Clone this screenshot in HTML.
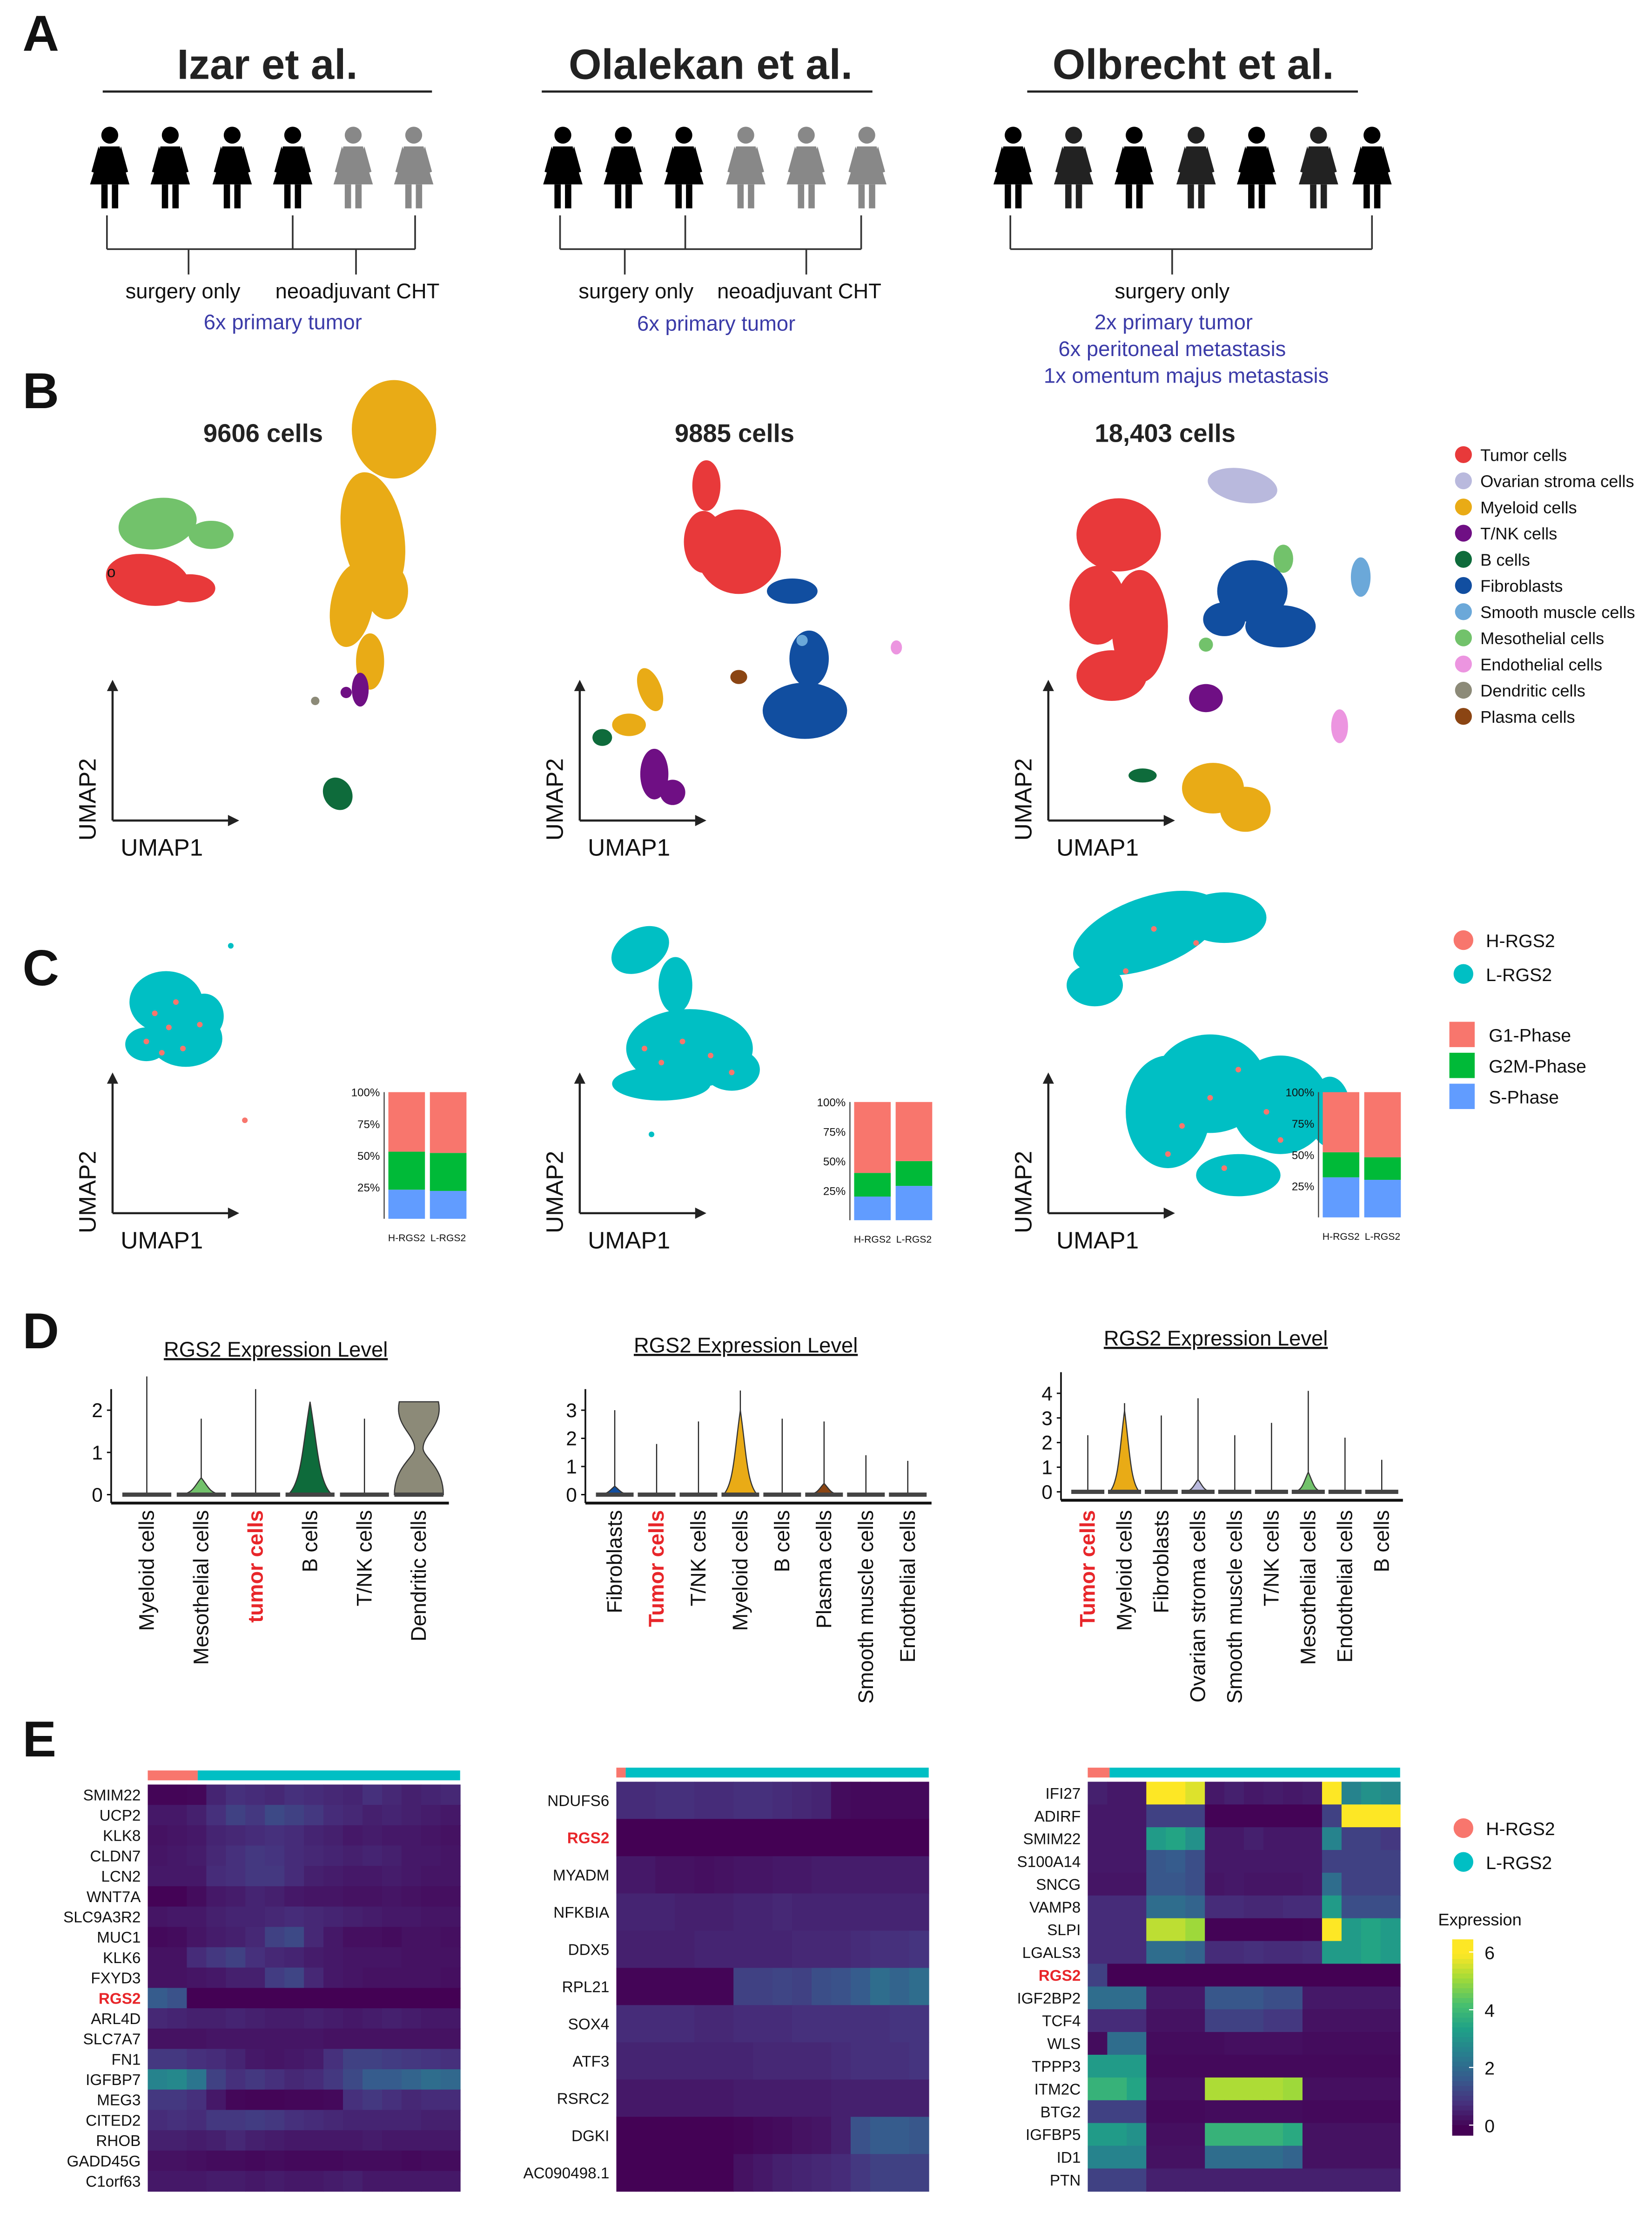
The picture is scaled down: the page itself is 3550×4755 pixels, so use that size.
<!DOCTYPE html>
<html><head><meta charset="utf-8"><style>
html,body{margin:0;padding:0;background:#fff}
svg{display:block}
text{font-family:"Liberation Sans",Arial,sans-serif}
</style></head><body>
<svg id="fig" xmlns="http://www.w3.org/2000/svg" width="3550" height="4755" viewBox="0 0 1174 1572.4">
<rect width="1174" height="1572.4" fill="#fff"/>
<g id="root"></g>
</svg>
<script>
// ===== data arrays =====
const studyTitles=["Izar et al.","Olalekan et al.","Olbrecht et al."];
const cellCounts=["9606 cells","9885 cells","18,403 cells"];
const cellTypes=["Tumor cells","Ovarian stroma cells","Myeloid cells","T/NK cells","B cells","Fibroblasts","Smooth muscle cells","Mesothelial cells","Endothelial cells","Dendritic cells","Plasma cells"];
const cellColors=["#E8393A","#B9B9DD","#E9AB16","#6F0F84","#0E6B3B","#114EA0","#6BA8D9","#72C26B","#EC95E0","#8C8A78","#8B4513"];
const phaseNames=["G1-Phase","G2M-Phase","S-Phase"];
const barGroups=["H-RGS2","L-RGS2"];
const sPhase=[[23,22],[20,29],[32,30]];
const g2mPhase=[[30,30],[20,21],[20,18]];
const g1Phase=[[47,48],[60,50],[48,52]];
const pctTicks=[25,50,75,100];
const violinCats=[
 ["Myeloid cells","Mesothelial cells","tumor cells","B cells","T/NK cells","Dendritic cells"],
 ["Fibroblasts","Tumor cells","T/NK cells","Myeloid cells","B cells","Plasma cells","Smooth muscle cells","Endothelial cells"],
 ["Tumor cells","Myeloid cells","Fibroblasts","Ovarian stroma cells","Smooth muscle cells","T/NK cells","Mesothelial cells","Endothelial cells","B cells"]];
const violinMax=[[2.8,1.8,2.5,2.2,1.8,2.2],[3.0,1.8,2.6,3.7,2.7,2.6,1.4,1.2],[2.3,3.6,3.1,3.8,2.3,2.8,4.1,2.2,1.3]];
const violinBody=[[0,0.4,0,2.2,0,2.2],[0.3,0,0,3.0,0,0.4,0,0],[0,3.3,0,0.5,0,0,0.8,0,0]];
const violinColorIdx=[[2,7,0,4,3,9],[5,0,3,2,4,10,6,8],[0,2,5,1,6,3,7,8,4]];
const violinTicks=[[0,1,2],[0,1,2,3],[0,1,2,3,4]];
const hmGenes=[
 ["SMIM22","UCP2","KLK8","CLDN7","LCN2","WNT7A","SLC9A3R2","MUC1","KLK6","FXYD3","RGS2","ARL4D","SLC7A7","FN1","IGFBP7","MEG3","CITED2","RHOB","GADD45G","C1orf63"],
 ["NDUFS6","RGS2","MYADM","NFKBIA","DDX5","RPL21","SOX4","ATF3","RSRC2","DGKI","AC090498.1"],
 ["IFI27","ADIRF","SMIM22","S100A14","SNCG","VAMP8","SLPI","LGALS3","RGS2","IGF2BP2","TCF4","WLS","TPPP3","ITM2C","BTG2","IGFBP5","ID1","PTN"]];
const hm1=[
 [0.3,0.3,0.4,1.3,1.6,1.5,1.4,1.6,1.5,1.4,1.3,1.6,1.4,1.2,1.3,1.4],
 [1.0,1.0,1.2,1.6,2.0,1.8,2.2,2.0,1.8,1.5,1.4,1.2,1.3,1.2,1.1,1.0],
 [0.8,0.9,1.0,1.3,1.4,1.5,1.6,1.5,1.3,1.2,1.0,1.1,1.0,1.0,0.9,0.8],
 [0.9,1.0,1.1,1.4,1.6,1.8,1.7,1.5,1.4,1.3,1.2,1.3,1.2,1.0,1.0,0.9],
 [1.0,1.0,1.0,1.5,1.6,1.8,1.8,1.5,1.2,1.1,1.0,1.0,1.1,1.0,0.9,0.9],
 [0.2,0.2,0.6,1.0,1.1,1.3,1.2,1.0,0.9,0.9,0.8,0.8,0.9,0.8,0.7,0.7],
 [0.9,1.0,1.0,1.2,1.3,1.3,1.4,1.5,1.4,1.3,1.2,1.1,1.0,1.0,0.9,0.9],
 [0.5,0.6,0.9,1.1,1.2,1.4,2.0,2.2,1.4,1.0,0.7,0.7,0.6,0.8,0.8,0.7],
 [0.8,0.8,1.5,1.8,2.0,1.6,1.4,1.3,1.1,1.0,0.9,0.9,0.9,0.8,0.8,0.8],
 [0.8,0.8,0.9,1.0,1.2,1.2,1.9,2.1,1.4,1.0,0.9,0.8,0.8,0.8,0.8,0.7],
 [2.6,2.4,0.0,0.0,0.0,0.0,0.0,0.0,0.0,0.0,0.0,0.0,0.0,0.0,0.0,0.0],
 [1.4,1.3,1.2,1.2,1.3,1.2,1.1,1.1,1.2,1.1,1.0,1.1,1.2,1.1,1.0,1.0],
 [0.8,0.8,0.8,0.9,0.9,0.9,0.9,0.9,0.9,0.8,0.8,0.8,0.8,0.8,0.8,0.8],
 [1.8,1.8,1.6,1.5,1.3,1.0,0.9,1.0,1.1,1.6,2.0,2.0,1.9,1.8,1.7,1.6],
 [3.5,3.6,3.2,2.0,1.6,1.8,1.6,1.4,1.5,1.8,2.2,2.6,2.6,2.8,3.0,2.9],
 [1.8,1.8,1.6,1.0,0.4,0.3,0.3,0.4,0.4,0.5,1.6,1.8,1.6,1.4,1.5,1.5],
 [1.5,1.6,1.5,1.8,1.8,1.9,1.8,1.6,1.5,1.4,1.3,1.3,1.3,1.3,1.2,1.2],
 [1.2,1.2,1.1,1.2,1.4,1.2,1.1,1.0,1.0,1.0,1.0,1.1,1.0,1.0,1.0,1.0],
 [0.8,0.8,0.7,0.6,0.6,0.5,0.6,0.5,0.5,0.5,0.6,0.6,0.6,0.5,0.6,0.6],
 [1.0,1.0,1.0,1.1,1.1,1.0,1.1,1.0,1.0,1.1,1.2,1.0,1.0,1.0,1.0,1.0]];
const hm2=[
 [1.5,1.5,1.6,1.6,1.5,1.5,1.6,1.6,1.5,1.4,1.3,0.6,0.5,0.5,0.5,0.5],
 [0,0,0,0,0,0,0,0,0,0,0,0,0,0,0,0],
 [1.0,1.0,0.8,0.8,0.7,0.8,0.9,0.9,1.0,1.0,1.1,1.1,1.1,1.1,1.1,1.1],
 [1.3,1.3,1.3,1.2,1.2,1.2,1.3,1.3,1.4,1.3,1.3,1.3,1.3,1.3,1.3,1.3],
 [1.2,1.2,1.2,1.2,1.3,1.3,1.3,1.3,1.3,1.4,1.4,1.4,1.5,1.6,1.6,1.7],
 [0.3,0.3,0.3,0.3,0.3,0.3,2.0,2.0,2.1,2.0,2.3,2.4,2.6,3.0,2.8,3.0],
 [1.5,1.5,1.5,1.5,1.4,1.4,1.5,1.5,1.5,1.6,1.6,1.6,1.6,1.6,1.7,1.7],
 [1.3,1.3,1.3,1.3,1.3,1.3,1.3,1.4,1.4,1.4,1.4,1.5,1.6,1.6,1.6,1.7],
 [1.0,1.0,1.0,1.0,1.0,1.0,1.1,1.1,1.1,1.1,1.1,1.2,1.2,1.2,1.2,1.2],
 [0.1,0.1,0.1,0.1,0.1,0.1,0.3,0.5,0.6,0.8,0.9,1.2,2.4,2.6,2.6,2.5],
 [0.1,0.1,0.1,0.1,0.1,0.1,0.8,1.0,1.2,1.3,1.4,1.5,1.8,2.0,2.0,2.0]];
const hm3=[
 [1.2,1.0,1.0,6.0,6.0,5.8,1.0,1.2,1.0,1.1,1.0,1.1,6.0,3.5,3.8,3.6],
 [1.0,1.0,1.0,2.0,2.0,2.0,0.2,0.2,0.2,0.2,0.2,0.2,2.0,6.0,6.0,6.0],
 [1.0,1.0,1.0,4.0,4.2,3.8,1.0,1.0,1.2,1.0,1.0,1.0,3.5,2.0,2.0,1.8],
 [1.0,1.0,1.0,2.5,2.6,2.3,1.0,1.0,1.0,1.0,1.0,1.0,2.0,2.0,2.0,2.0],
 [0.9,0.9,0.9,2.5,2.5,2.3,0.9,1.0,0.9,0.9,0.9,1.0,3.0,2.0,2.0,2.0],
 [1.5,1.5,1.5,3.0,3.0,2.8,1.5,1.5,1.4,1.4,1.5,1.5,4.0,2.3,2.3,2.3],
 [1.5,1.5,1.5,5.6,5.6,5.4,0.2,0.2,0.2,0.2,0.2,0.3,6.0,4.0,4.2,4.0],
 [1.5,1.5,1.5,3.0,3.0,2.8,1.5,1.5,1.6,1.5,1.5,1.6,4.0,4.0,4.2,4.0],
 [2.0,0,0,0,0,0,0,0,0,0,0,0,0,0,0,0],
 [3.0,3.0,3.0,1.0,1.0,1.0,2.5,2.5,2.5,2.3,2.3,1.0,1.0,1.0,1.0,1.0],
 [1.5,1.5,1.5,0.8,0.8,0.8,2.0,2.0,2.0,1.8,1.8,0.8,0.8,0.8,0.8,0.8],
 [0.6,3.0,3.0,0.6,0.6,0.6,0.6,0.7,0.7,0.7,0.7,0.6,0.6,0.6,0.6,0.6],
 [4.0,4.0,4.0,0.5,0.5,0.5,0.5,0.5,0.5,0.5,0.5,0.5,0.5,0.5,0.5,0.5],
 [4.5,4.5,4.2,0.7,0.7,0.7,5.5,5.5,5.5,5.5,5.4,0.7,0.7,0.7,0.7,0.7],
 [2.0,2.0,2.0,0.5,0.5,0.5,0.6,0.6,0.6,0.6,0.6,0.5,0.5,0.5,0.5,0.5],
 [4.0,4.0,3.8,0.7,0.7,0.7,4.5,4.5,4.5,4.5,4.3,0.8,0.8,0.8,0.8,0.8],
 [3.5,3.5,3.5,0.8,0.8,0.8,3.0,3.0,3.0,3.0,2.8,0.8,0.8,0.8,0.8,0.8],
 [2.0,2.0,2.0,1.2,1.2,1.2,1.2,1.2,1.2,1.2,1.2,1.2,1.2,1.2,1.2,1.2]];
const hmData=[hm1,hm2,hm3];
const hmHighFrac=[0.16,0.03,0.07];
const exprTicks=[0,2,4,6];

// ===== helpers =====
const NS="http://www.w3.org/2000/svg";
const root=document.getElementById('root');
function el(tag,attrs,parent,txt){const e=document.createElementNS(NS,tag);for(const k in attrs)e.setAttribute(k,attrs[k]);if(txt!==undefined)e.textContent=txt;(parent||root).appendChild(e);return e;}
function txt(x,y,s,size,opts,parent){opts=opts||{};const t=el('text',{x:x,y:y,'font-size':size,fill:opts.fill||'#111','text-anchor':opts.anchor||'start','font-weight':opts.weight||'normal'},parent,s);if(opts.rot)t.setAttribute('transform','rotate('+opts.rot+' '+x+' '+y+')');if(opts.deco)t.setAttribute('text-decoration',opts.deco);return t;}
function viridis(v){const stops=[[68,1,84],[70,50,126],[54,92,141],[39,127,142],[31,161,135],[74,193,109],[160,218,57],[253,231,37]];let t=Math.max(0,Math.min(6,v))/6*7;const i=Math.min(6,Math.floor(t));const f=t-i;const a=stops[i],b=stops[i+1];return 'rgb('+[0,1,2].map(k=>Math.round(a[k]+(b[k]-a[k])*f)).join(',')+')';}
// perceived colour of sparse stripes (mostly zero cells with bright streaks)
function stripeColor(v){const m=Math.max(0,Math.min(6,v));return viridis(6*Math.pow(m/6,1.5));}

// ===== panel letters =====
[["A",16,36],["B",16,290],["C",16,700],["D",16,958],["E",16,1248]].forEach(p=>{
 const t=txt(p[1],p[2],p[0],36,{weight:'bold'});
 
 
});

// ===== Panel A =====
const gA=el('g',{});
const titleCx=[190,505,848];
const ulines=[[73,307],[385,620],[730,965]];
studyTitles.forEach((s,i)=>{
 const t=txt(titleCx[i],56,s,30,{anchor:'middle',weight:'bold',fill:'#222'},gA);
 
 el('line',{x1:ulines[i][0],x2:ulines[i][1],y1:65,y2:65,stroke:'#222','stroke-width':1.5},gA);
});
function woman(cx,color){
 const g=el('g',{fill:color},gA);
 
 el('circle',{cx:cx,cy:96,r:6},g);
 el('path',{d:`M${cx-7},104 L${cx+7},104 L${cx+10},118 L${cx+14},131 L${cx-14},131 L${cx-10},118 Z`},g);
 el('path',{d:`M${cx-8},104 L${cx-13},122 L${cx-10},123 L${cx-6},110 Z M${cx+8},104 L${cx+13},122 L${cx+10},123 L${cx+6},110 Z`},g);
 el('rect',{x:cx-6,y:131,width:4.5,height:17},g);
 el('rect',{x:cx+1.5,y:131,width:4.5,height:17},g);
}
[78,121,165,208].forEach(x=>woman(x,'#000'));[251,294].forEach(x=>woman(x,'#888'));
[400,443,486].forEach(x=>woman(x,'#000'));[530,573,616].forEach(x=>woman(x,'#888'));
[720,763,806,850,893,937,975].forEach((x,i)=>woman(x,i%2?'#222':'#000'));
function bracket(x1,x2,mid,drops){
 const s={stroke:'#333','stroke-width':1.2};
 el('line',Object.assign({x1:x1,x2:x2,y1:177,y2:177},s),gA);
 [x1,x2].concat(mid).forEach(x=>el('line',Object.assign({x1:x,x2:x,y1:153,y2:177},s),gA));
 drops.forEach(x=>el('line',Object.assign({x1:x,x2:x,y1:177,y2:195},s),gA));
}
bracket(76,295,[208],[134,253]);
bracket(398,612,[487],[444,573]);
bracket(718,975,[],[833]);
const blue='#3B3BA8';
txt(130,212,'surgery only',15,{anchor:'middle'},gA);txt(254,212,'neoadjuvant CHT',15,{anchor:'middle'},gA);
txt(201,234,'6x primary tumor',15,{anchor:'middle',fill:blue},gA);
txt(452,212,'surgery only',15,{anchor:'middle'},gA);txt(568,212,'neoadjuvant CHT',15,{anchor:'middle'},gA);
txt(509,235,'6x primary tumor',15,{anchor:'middle',fill:blue},gA);
txt(833,212,'surgery only',15,{anchor:'middle'},gA);
txt(834,234,'2x primary tumor',15,{anchor:'middle',fill:blue},gA);
txt(833,253,'6x peritoneal metastasis',15,{anchor:'middle',fill:blue},gA);
txt(843,272,'1x omentum majus metastasis',15,{anchor:'middle',fill:blue},gA);

// ===== UMAP axes =====
function umapAxes(ox,oy,g){
 el('path',{d:`M${ox},${oy} L${ox},${oy-95} M${ox},${oy} L${ox+85},${oy}`,stroke:'#222','stroke-width':1.5,fill:'none'},g);
 el('path',{d:`M${ox-4},${oy-92} L${ox},${oy-100} L${ox+4},${oy-92} Z M${ox+82},${oy-4} L${ox+90},${oy} L${ox+82},${oy+4} Z`,fill:'#222'},g);
 txt(ox-12,oy-15,'UMAP2',17,{rot:-90,anchor:'middle'},g);
 txt(ox+35,oy+25,'UMAP1',17,{anchor:'middle'},g);
}
// ===== Panel B =====
const gB=el('g',{});
const bTitleX=[187,522,828];
cellCounts.forEach((s,i)=>txt(bTitleX[i],314,s,18,{anchor:'middle',weight:'bold',fill:'#222'},gB));
const clustersB=[
 [[112,372,28,18,7,-10],[150,380,16,10,7,0],[105,412,30,18,0,10],[135,418,18,10,0,0],
  [280,305,30,35,2,0],[265,380,22,45,2,-10],[250,430,15,30,2,10],[275,420,15,20,2,0],[263,470,10,20,2,0],[256,490,6,12,3,0],[246,492,4,4,3,0],[224,498,3,3,9,0],[240,564,10,12,4,-30]],
 [[502,345,10,18,0,0],[525,392,30,30,0,0],[500,385,14,22,0,0],[563,420,18,9,5,0],[575,468,14,20,5,0],[572,505,30,20,5,0],[570,455,4,4,6,0],[637,460,4,5,8,0],[525,481,6,5,10,0],
  [462,490,8,16,2,-20],[447,515,12,8,2,0],[428,524,7,6,4,0],[465,550,10,18,3,0],[478,563,9,9,3,0]],
 [[883,345,25,12,1,10],[795,380,30,26,0,0],[780,430,20,28,0,0],[810,445,20,40,0,0],[790,480,25,18,0,0],[912,397,7,10,7,0],[890,420,25,22,5,0],[910,445,25,15,5,0],[870,440,15,12,5,0],[967,410,7,14,6,0],[857,458,5,5,7,0],
  [857,496,12,10,3,0],[952,516,6,12,8,0],[812,551,10,5,4,0],[862,560,22,18,2,0],[885,575,18,16,2,0]]];
const umapOriginX=[80,412,745];
clustersB.forEach((cl,p)=>{
 cl.forEach(c=>{
  const e=el('ellipse',{cx:c[0],cy:c[1],rx:c[2],ry:c[3],fill:cellColors[c[4]],transform:`rotate(${c[5]} ${c[0]} ${c[1]})`},gB);
  
  
 });
 umapAxes(umapOriginX[p],583,gB);
});
txt(76,410,'o',11,{},gB);
cellTypes.forEach((n,i)=>{
 const g=el('g',{},gB);
 
 el('circle',{cx:1040,cy:323+18.6*i,r:6,fill:cellColors[i]},g);
 txt(1052,327.5+18.6*i,n,12,{},g);
});

// ===== Panel C =====
const gC=el('g',{});
const cyan='#00BFC4',salmon='#F8766D';
const blobsC=[
 [[118,712,26,22,0],[132,738,26,20,0],[104,742,15,12,0],[145,722,14,16,0]],
 [[455,675,22,15,-30],[480,700,12,20,0],[490,745,45,28,0],[470,770,35,12,0],[520,760,20,15,0]],
 [[815,663,55,25,-20],[870,652,30,18,0],[778,700,20,15,0],[860,770,40,35,0],[830,790,30,40,0],[910,785,35,35,0],[880,835,30,15,0],[945,790,15,25,0]]];
const redDots=[
 [[110,720],[120,730],[130,745],[104,740],[142,728],[125,712],[115,748]],
 [[485,740],[505,750],[470,755],[520,762],[458,745]],
 [[820,660],[850,670],[800,690],[860,780],[840,800],[900,790],[830,820],[880,760],[910,810],[870,830]]];
blobsC.forEach((bl,p)=>{
 bl.forEach(b=>{const e=el('ellipse',{cx:b[0],cy:b[1],rx:b[2],ry:b[3],fill:cyan,transform:`rotate(${b[4]} ${b[0]} ${b[1]})`},gC);});
 redDots[p].forEach(d=>el('circle',{cx:d[0],cy:d[1],r:2,fill:salmon},gC));
 umapAxes(umapOriginX[p],862,gC);
});
el('circle',{cx:164,cy:672,r:2,fill:cyan},gC);el('circle',{cx:174,cy:796,r:2,fill:salmon},gC);
el('circle',{cx:463,cy:806,r:2,fill:cyan},gC);
const barPanels=[{x0:276,top:776,bot:866},{x0:607,top:783,bot:867},{x0:940,top:776,bot:865}];
const phaseColors=[salmon,'#00BA38','#619CFF'];
barPanels.forEach((bp,p)=>{
 const g=el('g',{},gC);
 const yS=v=>bp.bot-(bp.bot-bp.top)*v/100;
 el('line',{x1:bp.x0-3,x2:bp.x0-3,y1:bp.top,y2:bp.bot,stroke:'#444','stroke-width':0.8},g);
 pctTicks.forEach(t=>txt(bp.x0-6,yS(t)+3,t+'%',8,{anchor:'end'},g));
 barGroups.forEach((gr,j)=>{
  const x=bp.x0+j*29.5,w=26;
  const s=sPhase[p][j],m=g2mPhase[p][j],g1=g1Phase[p][j];
  const segs=[[0,s,2],[s,s+m,1],[s+m,s+m+g1,0]];
  segs.forEach(sg=>{
   const r=el('rect',{x:x,y:yS(sg[1]),width:w,height:yS(sg[0])-yS(sg[1]),fill:phaseColors[sg[2]]},g);
   
   
  });
  txt(x+w/2,bp.bot+16,gr,7,{anchor:'middle'},g);
 });
});
[[salmon,'H-RGS2',668],[cyan,'L-RGS2',692]].forEach(l=>{const g=el('g',{},gC);el('circle',{cx:1040,cy:l[2],r:7,fill:l[0]},g);txt(1056,l[2]+5,l[1],13,{},g);});
phaseNames.forEach((n,i)=>{const g=el('g',{},gC);el('rect',{x:1030,y:726+22*i,width:18,height:18,fill:phaseColors[i]},g);txt(1058,740+22*i,n,13,{},g);});

// ===== Panel D violins =====
const gD=el('g',{});
const vPanels=[{ax:79,xe:319,y0:1062,unit:30,title:[196,964]},{ax:416,xe:662,y0:1062,unit:20,title:[530,961]},{ax:754,xe:997,y0:1060,unit:17.5,title:[864,956]}];
vPanels.forEach((vp,p)=>{
 const g=el('g',{},gD);
 txt(vp.title[0],vp.title[1],'RGS2 Expression Level',15,{anchor:'middle',deco:'underline'},g);
 const n=violinCats[p].length;
 const step=(vp.xe-vp.ax-8)/n;
 const xS=i=>vp.ax+6+step*(i+0.5);
 const yS=v=>vp.y0-v*vp.unit;
 el('line',{x1:vp.ax,x2:vp.ax,y1:yS(violinTicks[p][violinTicks[p].length-1])-15,y2:vp.y0+6,stroke:'#111','stroke-width':1.2},g);
 el('line',{x1:vp.ax,x2:vp.xe,y1:vp.y0+6,y2:vp.y0+6,stroke:'#111','stroke-width':2},g);
 violinTicks[p].forEach(t=>{txt(vp.ax-6,yS(t)+5,String(t),14,{anchor:'end'},g);el('line',{x1:vp.ax-3,x2:vp.ax,y1:yS(t),y2:yS(t),stroke:'#111','stroke-width':1},g);});
 const hw=Math.min(step*0.45,22);
 violinCats[p].forEach((c,i)=>{
  const cx=xS(i),mx=violinMax[p][i],bd=violinBody[p][i];
  const col=cellColors[violinColorIdx[p][i]];
  el('line',{x1:cx,x2:cx,y1:yS(mx),y2:yS(0),stroke:'#222','stroke-width':0.8},g);
  let d;
  if(bd>0){
   if(p===0&&i===5){
    d=`M${cx-hw},${yS(0)} C${cx-hw},${yS(bd*0.3)} ${cx-3},${yS(bd*0.4)} ${cx-3},${yS(bd*0.5)} C${cx-3},${yS(bd*0.65)} ${cx-hw},${yS(bd*0.75)} ${cx-hw*0.8},${yS(bd)} L${cx+hw*0.8},${yS(bd)} C${cx+hw},${yS(bd*0.75)} ${cx+3},${yS(bd*0.65)} ${cx+3},${yS(bd*0.5)} C${cx+3},${yS(bd*0.4)} ${cx+hw},${yS(bd*0.3)} ${cx+hw},${yS(0)} Z`;
   } else {
    const w=hw*(bd>1?0.9:0.8);
    d=`M${cx-w},${yS(0)} C${cx-w*0.4},${yS(bd*0.12)} ${cx-w*0.35},${yS(bd*0.5)} ${cx},${yS(bd)} C${cx+w*0.35},${yS(bd*0.5)} ${cx+w*0.4},${yS(bd*0.12)} ${cx+w},${yS(0)} Z`;
   }
   const v=el('path',{d:d,fill:col,stroke:'#333','stroke-width':0.8},g);
   
  }
  el('rect',{x:cx-hw,y:yS(0)-1.5,width:hw*2,height:3,fill:'#444'},g);
  const red=/tumor/i.test(c);
  txt(cx+5,1073,c,15,{anchor:'end',rot:-90,fill:red?'#E8262A':'#111',weight:red?'bold':'normal'},g);
 });
});

// ===== Panel E heatmaps =====
const gE=el('g',{});
const hmPanels=[{x:105,annY:1258,top:1268,bot:1557,lx:100},{x:438,annY:1256,top:1266,bot:1557,lx:433},{x:773,annY:1256,top:1266,bot:1557,lx:768}];
const hmW=222;
hmPanels.forEach((hp,p)=>{
 const g=el('g',{},gE);
 const hx=hp.x+hmW*hmHighFrac[p];
 el('rect',{x:hp.x,y:hp.annY,width:hx-hp.x,height:7,fill:salmon},g);
 el('rect',{x:hx,y:hp.annY,width:hp.x+hmW-hx,height:7,fill:cyan},g);
 const genes=hmGenes[p],data=hmData[p];
 const rh=(hp.bot-hp.top)/genes.length;
 genes.forEach((gn,r)=>{
  const nc=data[r].length,cw=hmW/nc;
  data[r].forEach((v,c)=>{
   const cell=el('rect',{x:hp.x+c*cw,y:hp.top+r*rh,width:cw+0.3,height:rh+0.3,fill:stripeColor(v)},g);
   
  });
  const red=gn==='RGS2';
  txt(hp.lx,hp.top+r*rh+rh/2+4,gn,11,{anchor:'end',fill:red?'#E8262A':'#111',weight:red?'bold':'normal'},g);
 });
});
[[salmon,'H-RGS2',1299],[cyan,'L-RGS2',1323]].forEach(l=>{const g=el('g',{},gE);el('circle',{cx:1040,cy:l[2],r:7,fill:l[0]},g);txt(1056,l[2]+5,l[1],13,{},g);});
txt(1022,1368,'Expression',12,{},gE);
const cb=el('g',{},gE);
const cbTop=1378,cbBot=1517,cbS=v=>1510-(1510-1387)*v/6;
for(let i=0;i<40;i++){const y=cbTop+(cbBot-cbTop)*i/40;const v=6-(y-1387)/(1510-1387)*6;el('rect',{x:1032,y:y,width:15,height:(cbBot-cbTop)/40+0.5,fill:viridis(v)},cb);}
exprTicks.forEach(t=>{txt(1055,cbS(t)+5,String(t),13,{},cb);el('line',{x1:1044,x2:1047,y1:cbS(t),y2:cbS(t),stroke:'#fff','stroke-width':0.8},cb);});
</script>
</body></html>
